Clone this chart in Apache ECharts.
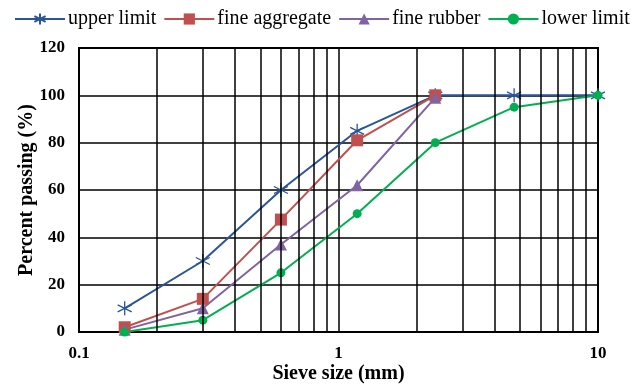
<!DOCTYPE html>
<html><head><meta charset="utf-8">
<script src="https://cdn.jsdelivr.net/npm/echarts@6/dist/echarts.min.js"></script>
<style>html,body{margin:0;padding:0;background:#fff}#c{width:637px;height:385px}</style>
</head><body><div id="c"></div>
<script>
const sieveFull = [0.15, 0.3, 0.6, 1.18, 2.36, 4.75, 10];
const sieveFine = [0.15, 0.3, 0.6, 1.18, 2.36];
const upperLimit = [10, 30, 60, 85, 100, 100, 100];
const fineAggregate = [2, 14, 47.5, 81, 100];
const fineRubber = [1, 10, 37, 62, 99];
const lowerLimit = [0, 5, 25, 50, 80, 95, 100];
const minorGrid = [0.2,0.3,0.4,0.5,0.6,0.7,0.8,0.9,2,3,4,5,6,7,8,9];
const yTicks = [0, 20, 40, 60, 80, 100, 120];

const font = 'Liberation Serif';
const pair = (xs, ys) => xs.map((x, i) => [x, ys[i]]);
const star = 'path://M0,-10 L0,10 M-8.66,-5 L8.66,5 M-8.66,5 L8.66,-5';

const chart = echarts.init(document.getElementById('c'));
chart.setOption({
  animation: false,
  backgroundColor: '#fff',
  grid: { left: 79, right: 39, top: 48, bottom: 53, show: true, borderColor: '#000', borderWidth: 2,
          containLabel: false, outerBoundsMode: 'none' },
  legend: {
    top: 9, left: 14, padding: 0, itemWidth: 50, itemHeight: 14, itemGap: 7,
    textStyle: { fontFamily: font, fontSize: 20, color: '#000', padding: [0,0,0,-2] },
    data: ['upper limit', 'fine aggregate', 'fine rubber', 'lower limit']
  },
  xAxis: {
    type: 'log', logBase: 10, min: 0.1, max: 10,
    name: 'Sieve size (mm)', nameLocation: 'middle', nameGap: 32, nameMoveOverlap: false,
    nameTextStyle: { fontFamily: font, fontSize: 20, fontWeight: 'bold', color: '#000' },
    axisLine: { lineStyle: { color: '#000', width: 2 } },
    axisTick: { show: false },
    axisLabel: { fontFamily: font, fontSize: 17, fontWeight: 'bold', color: '#000', margin: 13 },
    splitLine: { show: true, lineStyle: { color: '#000', width: 1.5 } }
  },
  yAxis: {
    type: 'value', min: 0, max: 120, interval: 20,
    name: 'Percent passing (%)', nameLocation: 'middle', nameGap: 42, nameMoveOverlap: false,
    nameTextStyle: { fontFamily: font, fontSize: 20, fontWeight: 'bold', color: '#000' },
    axisLine: { show: true, lineStyle: { color: '#000', width: 2 } },
    axisTick: { show: false },
    axisLabel: { fontFamily: font, fontSize: 17, fontWeight: 'bold', color: '#000', margin: 14 },
    splitLine: { show: true, lineStyle: { color: '#000', width: 1.5 } }
  },
  series: [
    { type: 'line', name: 'grid', data: [], silent: true,
      markLine: { silent: true, symbol: 'none', label: { show: false },
        lineStyle: { color: '#000', width: 1.5, type: 'solid' },
        data: minorGrid.map(v => ({ xAxis: v })) } },
    { type: 'line', name: 'upper limit', data: pair(sieveFull, upperLimit),
      color: '#2a5598', lineStyle: { width: 2, color: '#2a5598' },
      symbol: star, symbolSize: 14,
      itemStyle: { color: 'rgba(0,0,0,0)', borderColor: '#2a5598', borderWidth: 1.3 } },
    { type: 'line', name: 'fine aggregate', data: pair(sieveFine, fineAggregate),
      color: '#c0504d', lineStyle: { width: 2, color: '#c0504d' },
      symbol: 'rect', symbolSize: 12, itemStyle: { color: '#c0504d' } },
    { type: 'line', name: 'fine rubber', data: pair(sieveFine, fineRubber),
      color: '#8064a2', lineStyle: { width: 2, color: '#8064a2' },
      symbol: 'triangle', symbolSize: 12, itemStyle: { color: '#8064a2' } },
    { type: 'line', name: 'lower limit', data: pair(sieveFull, lowerLimit),
      color: '#00b050', lineStyle: { width: 2, color: '#00b050' },
      symbol: 'circle', symbolSize: 9, itemStyle: { color: '#00b050' } }
  ]
});
</script></body></html>
